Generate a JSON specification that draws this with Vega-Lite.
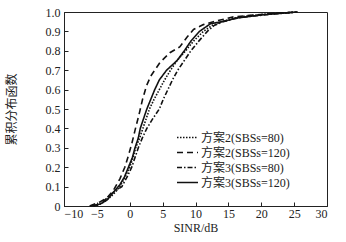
{
  "$schema": "https://vega.github.io/schema/vega-lite/v6.json",
  "autosize": {"type": "none"},
  "padding": {"left": 64, "top": 12, "right": 19, "bottom": 36},
  "width": 263,
  "height": 194,
  "background": "white",
  "config": {
    "view": {"stroke": "#222", "strokeWidth": 1},
    "font": "Liberation Serif, Noto Sans CJK SC",
    "axis": {
      "grid": false,
      "domainColor": "#222",
      "tickColor": "#222",
      "tickSize": -4,
      "labelFont": "Liberation Serif",
      "labelFontSize": 12,
      "labelColor": "#222",
      "titleFont": "Liberation Serif, Noto Sans CJK SC",
      "titleFontSize": 12,
      "titleFontWeight": "normal",
      "titleColor": "#222"
    }
  },
  "data": {
    "values": [
      {"s": "方案2(SBSs=80)", "x": -5.5, "y": 0},
      {"s": "方案2(SBSs=80)", "x": -4.5, "y": 0.01},
      {"s": "方案2(SBSs=80)", "x": -3.5, "y": 0.03},
      {"s": "方案2(SBSs=80)", "x": -2.5, "y": 0.06},
      {"s": "方案2(SBSs=80)", "x": -1.5, "y": 0.1},
      {"s": "方案2(SBSs=80)", "x": -0.7, "y": 0.15},
      {"s": "方案2(SBSs=80)", "x": 0, "y": 0.2},
      {"s": "方案2(SBSs=80)", "x": 0.5, "y": 0.25},
      {"s": "方案2(SBSs=80)", "x": 0.9, "y": 0.3},
      {"s": "方案2(SBSs=80)", "x": 1.5, "y": 0.35},
      {"s": "方案2(SBSs=80)", "x": 2.0, "y": 0.4},
      {"s": "方案2(SBSs=80)", "x": 2.5, "y": 0.45},
      {"s": "方案2(SBSs=80)", "x": 3.0, "y": 0.5},
      {"s": "方案2(SBSs=80)", "x": 3.7, "y": 0.55},
      {"s": "方案2(SBSs=80)", "x": 4.5, "y": 0.6},
      {"s": "方案2(SBSs=80)", "x": 5.3, "y": 0.65},
      {"s": "方案2(SBSs=80)", "x": 6.2, "y": 0.7},
      {"s": "方案2(SBSs=80)", "x": 7.2, "y": 0.75},
      {"s": "方案2(SBSs=80)", "x": 8.5, "y": 0.8},
      {"s": "方案2(SBSs=80)", "x": 9.7, "y": 0.85},
      {"s": "方案2(SBSs=80)", "x": 11.2, "y": 0.9},
      {"s": "方案2(SBSs=80)", "x": 12.5, "y": 0.93},
      {"s": "方案2(SBSs=80)", "x": 14, "y": 0.95},
      {"s": "方案2(SBSs=80)", "x": 16, "y": 0.97},
      {"s": "方案2(SBSs=80)", "x": 18, "y": 0.98},
      {"s": "方案2(SBSs=80)", "x": 21, "y": 0.99},
      {"s": "方案2(SBSs=80)", "x": 25.5, "y": 1.0},

      {"s": "方案2(SBSs=120)", "x": -6.1, "y": 0},
      {"s": "方案2(SBSs=120)", "x": -4.6, "y": 0.02},
      {"s": "方案2(SBSs=120)", "x": -3.5, "y": 0.04},
      {"s": "方案2(SBSs=120)", "x": -2.5, "y": 0.08},
      {"s": "方案2(SBSs=120)", "x": -1.5, "y": 0.14},
      {"s": "方案2(SBSs=120)", "x": -0.75, "y": 0.2},
      {"s": "方案2(SBSs=120)", "x": -0.2, "y": 0.26},
      {"s": "方案2(SBSs=120)", "x": 0.3, "y": 0.32},
      {"s": "方案2(SBSs=120)", "x": 0.8, "y": 0.39},
      {"s": "方案2(SBSs=120)", "x": 1.4, "y": 0.47},
      {"s": "方案2(SBSs=120)", "x": 1.95, "y": 0.55},
      {"s": "方案2(SBSs=120)", "x": 2.55, "y": 0.62},
      {"s": "方案2(SBSs=120)", "x": 3.2, "y": 0.67},
      {"s": "方案2(SBSs=120)", "x": 3.8, "y": 0.7},
      {"s": "方案2(SBSs=120)", "x": 4.6, "y": 0.74},
      {"s": "方案2(SBSs=120)", "x": 6.1, "y": 0.79},
      {"s": "方案2(SBSs=120)", "x": 7.6, "y": 0.82},
      {"s": "方案2(SBSs=120)", "x": 8.7, "y": 0.87},
      {"s": "方案2(SBSs=120)", "x": 9.7, "y": 0.91},
      {"s": "方案2(SBSs=120)", "x": 11.2, "y": 0.935},
      {"s": "方案2(SBSs=120)", "x": 12.7, "y": 0.95},
      {"s": "方案2(SBSs=120)", "x": 15.8, "y": 0.975},
      {"s": "方案2(SBSs=120)", "x": 20.9, "y": 0.99},
      {"s": "方案2(SBSs=120)", "x": 25.4, "y": 1.0},

      {"s": "方案3(SBSs=80)", "x": -5.5, "y": 0},
      {"s": "方案3(SBSs=80)", "x": -4.5, "y": 0.01},
      {"s": "方案3(SBSs=80)", "x": -3.5, "y": 0.04},
      {"s": "方案3(SBSs=80)", "x": -2.5, "y": 0.07},
      {"s": "方案3(SBSs=80)", "x": -1.2, "y": 0.1},
      {"s": "方案3(SBSs=80)", "x": -0.4, "y": 0.15},
      {"s": "方案3(SBSs=80)", "x": 0.3, "y": 0.2},
      {"s": "方案3(SBSs=80)", "x": 0.8, "y": 0.25},
      {"s": "方案3(SBSs=80)", "x": 1.3, "y": 0.3},
      {"s": "方案3(SBSs=80)", "x": 1.9, "y": 0.35},
      {"s": "方案3(SBSs=80)", "x": 2.6, "y": 0.4},
      {"s": "方案3(SBSs=80)", "x": 3.5, "y": 0.45},
      {"s": "方案3(SBSs=80)", "x": 4.5, "y": 0.5},
      {"s": "方案3(SBSs=80)", "x": 5.1, "y": 0.55},
      {"s": "方案3(SBSs=80)", "x": 5.8, "y": 0.6},
      {"s": "方案3(SBSs=80)", "x": 6.5, "y": 0.65},
      {"s": "方案3(SBSs=80)", "x": 7.3, "y": 0.7},
      {"s": "方案3(SBSs=80)", "x": 8.3, "y": 0.75},
      {"s": "方案3(SBSs=80)", "x": 9.3, "y": 0.8},
      {"s": "方案3(SBSs=80)", "x": 10.5, "y": 0.85},
      {"s": "方案3(SBSs=80)", "x": 11.8, "y": 0.9},
      {"s": "方案3(SBSs=80)", "x": 12.8, "y": 0.93},
      {"s": "方案3(SBSs=80)", "x": 14.2, "y": 0.95},
      {"s": "方案3(SBSs=80)", "x": 16.5, "y": 0.97},
      {"s": "方案3(SBSs=80)", "x": 19, "y": 0.98},
      {"s": "方案3(SBSs=80)", "x": 22, "y": 0.99},
      {"s": "方案3(SBSs=80)", "x": 25.5, "y": 1.0},

      {"s": "方案3(SBSs=120)", "x": -6, "y": 0},
      {"s": "方案3(SBSs=120)", "x": -4.5, "y": 0.01},
      {"s": "方案3(SBSs=120)", "x": -3.5, "y": 0.03},
      {"s": "方案3(SBSs=120)", "x": -2.5, "y": 0.07},
      {"s": "方案3(SBSs=120)", "x": -1.5, "y": 0.11},
      {"s": "方案3(SBSs=120)", "x": -0.8, "y": 0.15},
      {"s": "方案3(SBSs=120)", "x": -0.2, "y": 0.2},
      {"s": "方案3(SBSs=120)", "x": 0.4, "y": 0.25},
      {"s": "方案3(SBSs=120)", "x": 0.8, "y": 0.3},
      {"s": "方案3(SBSs=120)", "x": 1.3, "y": 0.35},
      {"s": "方案3(SBSs=120)", "x": 1.6, "y": 0.4},
      {"s": "方案3(SBSs=120)", "x": 2.1, "y": 0.45},
      {"s": "方案3(SBSs=120)", "x": 2.6, "y": 0.5},
      {"s": "方案3(SBSs=120)", "x": 3.2, "y": 0.55},
      {"s": "方案3(SBSs=120)", "x": 3.8, "y": 0.6},
      {"s": "方案3(SBSs=120)", "x": 4.5, "y": 0.65},
      {"s": "方案3(SBSs=120)", "x": 5.6, "y": 0.7},
      {"s": "方案3(SBSs=120)", "x": 7.2, "y": 0.75},
      {"s": "方案3(SBSs=120)", "x": 8.3, "y": 0.8},
      {"s": "方案3(SBSs=120)", "x": 9.3, "y": 0.85},
      {"s": "方案3(SBSs=120)", "x": 10.6, "y": 0.9},
      {"s": "方案3(SBSs=120)", "x": 12.3, "y": 0.94},
      {"s": "方案3(SBSs=120)", "x": 14, "y": 0.95},
      {"s": "方案3(SBSs=120)", "x": 16.5, "y": 0.97},
      {"s": "方案3(SBSs=120)", "x": 20, "y": 0.985},
      {"s": "方案3(SBSs=120)", "x": 25.5, "y": 1.0}
    ]
  },
  "mark": {"type": "line", "color": "#111", "strokeWidth": 1.6},
  "encoding": {
    "x": {
      "field": "x", "type": "quantitative",
      "scale": {"domain": [-10, 30], "nice": false},
      "axis": {"values": [-10, -5, 0, 5, 10, 15, 20, 25, 30], "title": "SINR/dB", "titleY": 16, "titleBaseline": "top", "labelPadding": 6}
    },
    "y": {
      "field": "y", "type": "quantitative",
      "scale": {"domain": [0, 1], "nice": false},
      "axis": {
        "values": [0, 0.1, 0.2, 0.3, 0.4, 0.5, 0.6, 0.7, 0.8, 0.9, 1.0],
        "format": ".1f",
        "labelExpr": "datum.value == 0 ? '0' : datum.label",
        "labelOverlap": false,
        "title": "累积分布函数", "titlePadding": 27, "labelPadding": 8
      }
    },
    "strokeDash": {
      "field": "s", "type": "nominal",
      "sort": ["方案2(SBSs=80)", "方案2(SBSs=120)", "方案3(SBSs=80)", "方案3(SBSs=120)"],
      "scale": {
        "domain": ["方案2(SBSs=80)", "方案2(SBSs=120)", "方案3(SBSs=80)", "方案3(SBSs=120)"],
        "range": [[1.5, 1.5], [6, 4], [5, 2, 1.5, 2], [1, 0]]
      },
      "legend": {
        "title": null,
        "orient": "none",
        "legendX": 112,
        "legendY": 118,
        "symbolType": "stroke",
        "symbolSize": 440,
        "clipHeight": 15,
        "symbolStrokeColor": "#111",
        "symbolStrokeWidth": 1.6,
        "labelFont": "Liberation Serif, Noto Sans CJK SC",
        "labelFontSize": 12,
        "labelColor": "#222",
        "labelOffset": 2,
        "rowPadding": 0,
        "symbolOffset": 0
      }
    }
  }
}
